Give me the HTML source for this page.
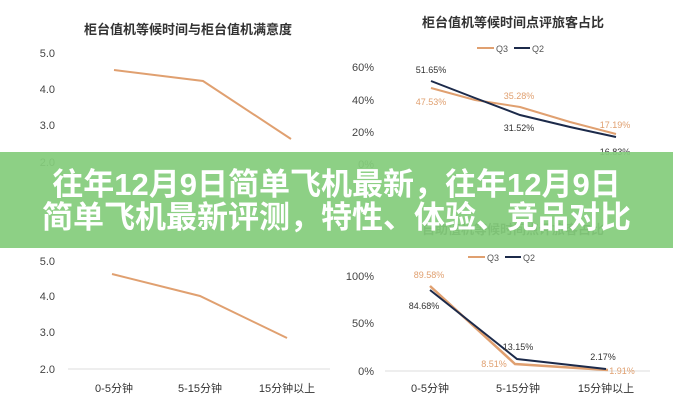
<!DOCTYPE html>
<html><head><meta charset="utf-8"><style>
html,body{margin:0;padding:0;background:#fff;}
body{width:673px;height:400px;position:relative;overflow:hidden;font-family:"Liberation Sans","Noto Sans CJK SC",sans-serif;}
svg{position:absolute;left:0;top:0;}
.banner{position:absolute;left:0;top:152px;width:673px;height:96px;background:rgba(132,204,124,0.93);}
.bt{position:absolute;left:0;width:673px;text-align:center;color:#fff;font-weight:bold;font-size:31px;line-height:34px;font-family:"Liberation Sans","Noto Sans CJK SC",sans-serif;white-space:nowrap;}
</style></head><body>
<svg width="673" height="400" viewBox="0 0 673 400" font-family="Liberation Sans, Noto Sans CJK SC, sans-serif">
<text x="188" y="34" text-anchor="middle" font-size="13" font-weight="bold" fill="#333">柜台值机等候时间与柜台值机满意度</text>
<g font-size="11" fill="#444" text-anchor="end">
<text x="55" y="57">5.0</text><text x="55" y="93">4.0</text><text x="55" y="129">3.0</text><text x="55" y="166">2.0</text></g>
<polyline points="114,70 203,81 291,139" fill="none" stroke="#e0a070" stroke-width="2"/>
<g font-size="11" fill="#444" text-anchor="end">
<text x="55" y="265">5.0</text><text x="55" y="300">4.0</text><text x="55" y="336">3.0</text><text x="55" y="373">2.0</text></g>
<line x1="68" y1="369" x2="330" y2="369" stroke="#ddd"/>
<polyline points="112,274 200,296 287,338" fill="none" stroke="#e0a070" stroke-width="2"/>
<g font-size="11" fill="#333" text-anchor="middle">
<text x="114" y="392">0-5分钟</text><text x="200" y="392">5-15分钟</text><text x="287" y="392">15分钟以上</text></g>
<text x="513" y="27" text-anchor="middle" font-size="13" font-weight="bold" fill="#333">柜台值机等候时间点评旅客占比</text>
<line x1="477" y1="48" x2="494" y2="48" stroke="#e0a070" stroke-width="2"/><text x="496" y="52" font-size="9" fill="#555">Q3</text>
<line x1="514" y1="48" x2="530" y2="48" stroke="#1c2a4a" stroke-width="2"/><text x="532" y="52" font-size="9" fill="#555">Q2</text>
<g font-size="11" fill="#444" text-anchor="end">
<text x="374" y="71">60%</text><text x="374" y="104">40%</text><text x="374" y="136">20%</text><text x="374" y="168">0%</text></g>
<polyline points="431,88 475,100 520,107 570,122 616,134" fill="none" stroke="#e0a070" stroke-width="2"/>
<polyline points="431,81 475,98 520,115 570,127 616,137" fill="none" stroke="#1c2a4a" stroke-width="2"/>
<g font-size="9" text-anchor="middle">
<text x="431" y="73" fill="#333">51.65%</text><text x="431" y="105" fill="#e0a070">47.53%</text>
<text x="519" y="99" fill="#e0a070">35.28%</text><text x="519" y="131" fill="#333">31.52%</text>
<text x="615" y="128" fill="#e0a070">17.19%</text><text x="615" y="155" fill="#333">16.83%</text></g>
<text x="513" y="234" text-anchor="middle" font-size="13" font-weight="bold" fill="#333">自助值机等候时间点评旅客占比</text>
<line x1="468" y1="257" x2="485" y2="257" stroke="#e0a070" stroke-width="2"/><text x="487" y="261" font-size="9" fill="#555">Q3</text>
<line x1="505" y1="257" x2="521" y2="257" stroke="#1c2a4a" stroke-width="2"/><text x="523" y="261" font-size="9" fill="#555">Q2</text>
<g font-size="11" fill="#444" text-anchor="end">
<text x="374" y="280">100%</text><text x="374" y="327">50%</text><text x="374" y="375">0%</text></g>
<line x1="385" y1="371" x2="650" y2="371" stroke="#ddd"/>
<polyline points="430,286 515,364 608,370" fill="none" stroke="#e0a070" stroke-width="2.5"/>
<polyline points="430,290 517,359 606,369" fill="none" stroke="#1c2a4a" stroke-width="2"/>
<g font-size="9" text-anchor="middle">
<text x="429" y="278" fill="#e0a070">89.58%</text><text x="424" y="309" fill="#333">84.68%</text>
<text x="518" y="350" fill="#333">13.15%</text><text x="494" y="367" fill="#e0a070">8.51%</text>
<text x="603" y="360" fill="#333">2.17%</text><text x="622" y="374" fill="#e0a070">1.91%</text></g>
<g font-size="11" fill="#333" text-anchor="middle">
<text x="430" y="392">0-5分钟</text><text x="518" y="392">5-15分钟</text><text x="606" y="392">15分钟以上</text></g>
</svg>
<div class="banner"></div>
<div class="bt" style="top:168px">往年12月9日简单飞机最新，往年12月9日</div>
<div class="bt" style="top:201px">简单飞机最新评测，特性、体验、竞品对比</div>
</body></html>
